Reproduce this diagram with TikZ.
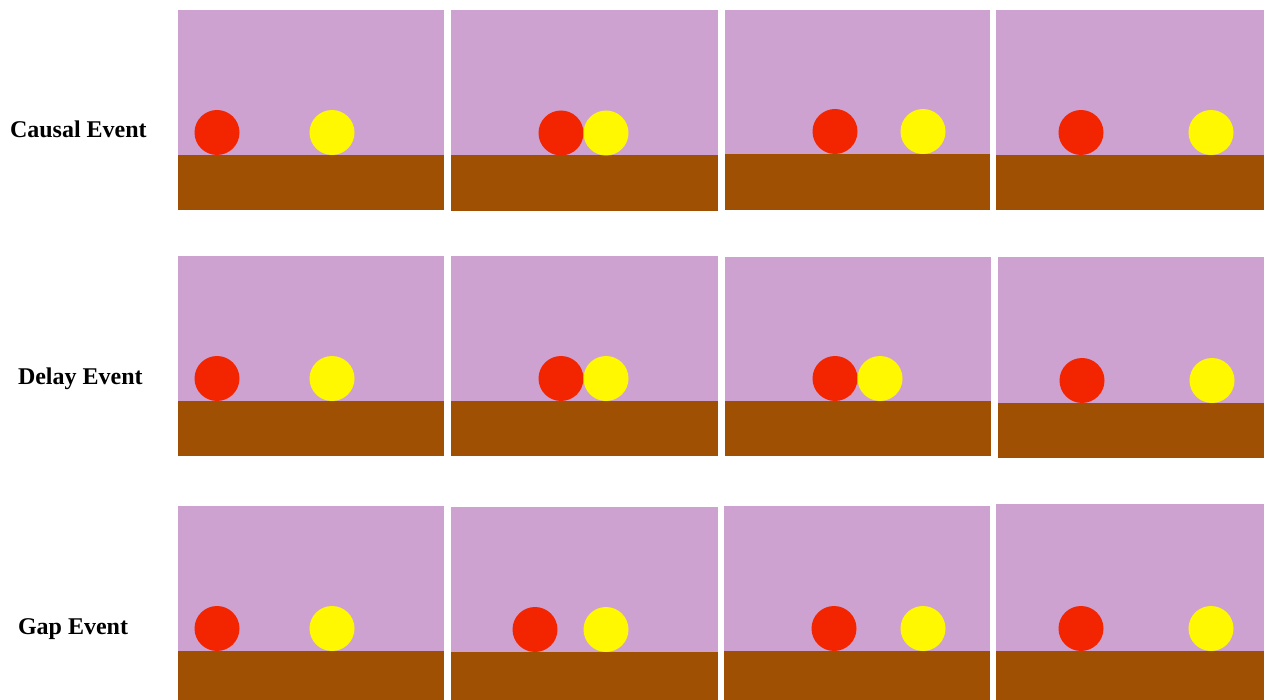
\documentclass[tikz,border=0pt]{standalone}
\usepackage{fontspec}
\setmainfont{Liberation Serif}
\definecolor{cielo}{RGB}{206,162,208}
\definecolor{suelo}{RGB}{160,80,2}
\definecolor{rojo}{RGB}{243,37,0}
\definecolor{amarillo}{RGB}{255,248,0}
\begin{document}
\begin{tikzpicture}[
            x=1pt, y=-1pt,
            every node/.style={
                inner sep=0pt,
                outer sep=0pt
            },
            bola/.style={
                circle,
                minimum size=45pt
            },
            rojabola/.style={bola, fill=rojo},
            amarillabola/.style={bola, fill=amarillo},
            etiqueta/.style={
                anchor=base west,
                font=\fontsize{24}{28}\selectfont\bfseries
            }
        ]

        \useasboundingbox (0,0) rectangle (1267,700);

        % Etiquetas
        \node[etiqueta] (causal) at (10,138) {Causal Event};
        \node[etiqueta] (delay)  at (18,385) {Delay Event};
        \node[etiqueta] (gap)    at (18,634) {Gap Event};

        % Fila 1
        \fill[cielo] (178,10) rectangle (444,155);
        \fill[suelo] (178,155) rectangle (444,210);
        \fill[cielo] (451,10) rectangle (718,155.5);
        \fill[suelo] (451,155.5) rectangle (718,211);
        \fill[cielo] (725,10) rectangle (990,154);
        \fill[suelo] (725,154) rectangle (990,210);
        \fill[cielo] (996,10) rectangle (1264,155);
        \fill[suelo] (996,155) rectangle (1264,210);

        \node[rojabola]     (r11) at (217,132.5) {};
        \node[amarillabola] (a11) at (332,132.5) {};
        \node[rojabola]     (r12) at (561,133) {};
        \node[amarillabola] (a12) at (606,133) {};
        \node[rojabola]     (r13) at (835,131.5) {};
        \node[amarillabola] (a13) at (923,131.5) {};
        \node[rojabola]     (r14) at (1081,132.5) {};
        \node[amarillabola] (a14) at (1211,132.5) {};

        % Fila 2
        \fill[cielo] (178,256) rectangle (444,401);
        \fill[suelo] (178,401) rectangle (444,456);
        \fill[cielo] (451,256) rectangle (718,401);
        \fill[suelo] (451,401) rectangle (718,456);
        \fill[cielo] (725,257) rectangle (991,401);
        \fill[suelo] (725,401) rectangle (991,456);
        \fill[cielo] (998,257) rectangle (1264,403);
        \fill[suelo] (998,403) rectangle (1264,458);

        \node[rojabola]     (r21) at (217,378.5) {};
        \node[amarillabola] (a21) at (332,378.5) {};
        \node[rojabola]     (r22) at (561,378.5) {};
        \node[amarillabola] (a22) at (606,378.5) {};
        \node[rojabola]     (r23) at (835,378.5) {};
        \node[amarillabola] (a23) at (880,378.5) {};
        \node[rojabola]     (r24) at (1082,380.5) {};
        \node[amarillabola] (a24) at (1212,380.5) {};

        % Fila 3
        \fill[cielo] (178,506) rectangle (444,651);
        \fill[suelo] (178,651) rectangle (444,700);
        \fill[cielo] (451,507) rectangle (718,652);
        \fill[suelo] (451,652) rectangle (718,700);
        \fill[cielo] (724,506) rectangle (990,651);
        \fill[suelo] (724,651) rectangle (990,700);
        \fill[cielo] (996,504) rectangle (1264,651);
        \fill[suelo] (996,651) rectangle (1264,700);

        \node[rojabola]     (r31) at (217,628.5) {};
        \node[amarillabola] (a31) at (332,628.5) {};
        \node[rojabola]     (r32) at (535,629.5) {};
        \node[amarillabola] (a32) at (606,629.5) {};
        \node[rojabola]     (r33) at (834,628.5) {};
        \node[amarillabola] (a33) at (923,628.5) {};
        \node[rojabola]     (r34) at (1081,628.5) {};
        \node[amarillabola] (a34) at (1211,628.5) {};

        \end{tikzpicture}
\end{document}
